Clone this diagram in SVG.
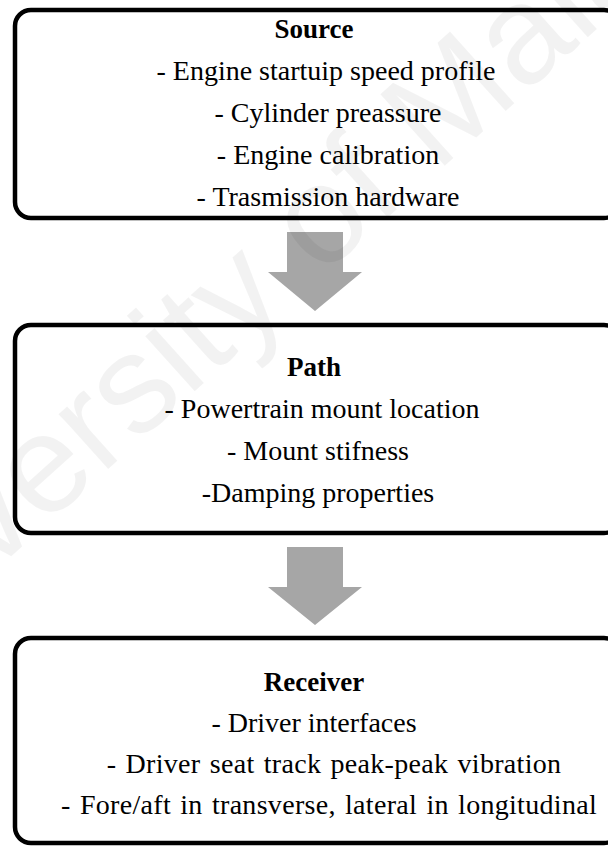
<svg xmlns="http://www.w3.org/2000/svg" width="608" height="846" viewBox="0 0 608 846">
  <style>
    .box { fill: #ffffff; stroke: #000000; stroke-width: 4.5; }
    .arrow { fill: #a6a6a6; }
    text { font-family: "Liberation Serif", "Times New Roman", serif; font-size: 28px; fill: #000000; text-anchor: middle; }
    .title { font-weight: bold; font-size: 27px; }
    .wide { word-spacing: 2px; letter-spacing: 0.3px; }
    .mark { font-family: "Liberation Sans", Arial, sans-serif; font-size: 140px; fill: #000000; fill-opacity: 0.05; text-anchor: start; }
  </style>

  <!-- Source -->
  <g id="source">
    <rect class="box" x="15" y="10" width="605" height="208" rx="16" ry="16"/>
    <text class="title" x="314" y="38">Source</text>
    <text x="326" y="80">- Engine startuip speed profile</text>
    <text x="328" y="122">- Cylinder preassure</text>
    <text x="328" y="164">- Engine calibration</text>
    <text x="328" y="206">- Trasmission hardware</text>
  </g>

  <!-- Path -->
  <g id="path">
    <rect class="box" x="15" y="325" width="605" height="208" rx="16" ry="16"/>
    <text class="title" x="314" y="376">Path</text>
    <text x="322" y="418">- Powertrain mount location</text>
    <text x="318" y="460">- Mount stifness</text>
    <text x="318" y="502">-Damping properties</text>
  </g>

  <!-- Receiver -->
  <g id="receiver">
    <rect class="box" x="15" y="638" width="605" height="205" rx="16" ry="16"/>
    <text class="title" x="314" y="691">Receiver</text>
    <text x="314" y="732">- Driver interfaces</text>
    <text class="wide" x="334" y="773">- Driver seat track peak-peak vibration</text>
    <text class="wide" x="329" y="814">- Fore/aft in transverse, lateral in longitudinal</text>
  </g>

  <!-- Connectors: block arrows between the stages -->
  <g id="connectors">
    <polygon class="arrow" points="287,232 343,232 343,272 362,272 315,311 268,272 287,272"/>
    <polygon class="arrow" points="287,547 343,547 343,587 362,587 315,625 268,587 287,587"/>
  </g>

  <!-- Repository watermark -->
  <text class="mark" transform="translate(-165 715) rotate(-42)">University of Malaya</text>
</svg>
